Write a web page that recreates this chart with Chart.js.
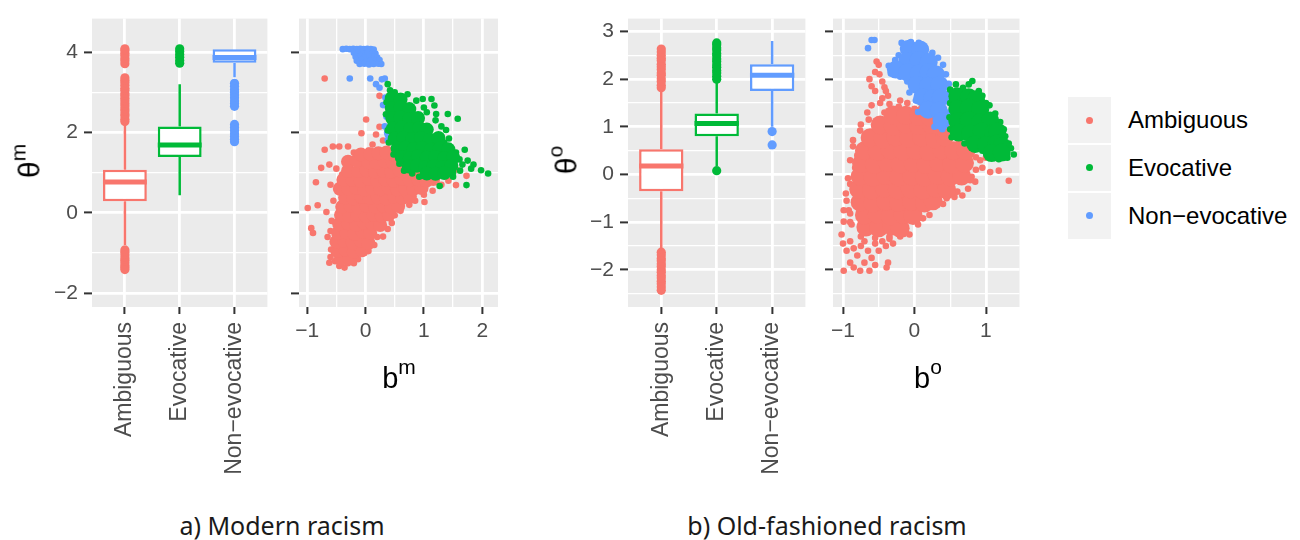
<!DOCTYPE html>
<html>
<head>
<meta charset="utf-8">
<script src="https://cdn.jsdelivr.net/npm/chart.js@4.4.1/dist/chart.umd.min.js"></script>
<style>
  body { margin: 0; background: #fff; }
  #fig { position: relative; width: 1300px; height: 540px; overflow: hidden;
         font-family: "Liberation Sans", Arial, sans-serif; }
  #fig canvas { position: absolute; top: 0; }
  .ytitle { position: absolute; transform: translate(-50%, -50%) rotate(-90deg);
            font-size: 30px; line-height: 1; white-space: nowrap; color: #000; }
  .xtitle { position: absolute; transform: translateX(-50%); font-size: 29px;
            line-height: 1; white-space: nowrap; color: #000; }
  .sup { font-size: 21px; vertical-align: 14px; }
  .caption { position: absolute; top: 513px; transform: translateX(-50%);
             font-family: "Noto Sans", sans-serif; font-size: 25px; line-height: 1;
             white-space: nowrap; color: #1a1a1a; }
  #legend { position: absolute; left: 1068px; top: 97px; }
  .row { display: flex; align-items: center; height: 45.7px; margin-bottom: 2.3px; }
  .key { width: 43px; height: 100%; background: #F2F2F2; position: relative; }
  .key i { position: absolute; left: 18px; top: 19.5px; width: 7px; height: 7px; border-radius: 50%; }
  .lab { margin-left: 17px; font-size: 24px; color: #000; white-space: nowrap; }
</style>
</head>
<body>
<div id="fig">
  <canvas id="boxA" width="272" height="500" style="left:0px"></canvas>
  <canvas id="dotA" width="220" height="500" style="left:285px"></canvas>
  <canvas id="boxB" width="270" height="500" style="left:540px"></canvas>
  <canvas id="dotB" width="210" height="500" style="left:819px"></canvas>

  <div class="ytitle" style="left:26px; top:161px">θ<span class="sup">m</span></div>
  <div class="ytitle" style="left:563px; top:160px">θ<span class="sup">o</span></div>
  <div class="xtitle" style="left:399px; top:356px">b<span class="sup">m</span></div>
  <div class="xtitle" style="left:928px; top:356px">b<span class="sup">o</span></div>

  <div class="caption" style="left:282px">a) Modern racism</div>
  <div class="caption" style="left:827px">b) Old-fashioned racism</div>

  <div id="legend"></div>
</div>

<script>
// groups and ggplot hue colours
const groups = ['Ambiguous', 'Evocative', 'Non\u2212evocative'];
const groupColors = ['#F8766D', '#00BA38', '#619CFF'];

// ---- a) modern racism : boxplot of theta^m ----
const loA  = [-0.80, 0.44, 3.37];
const q1A  = [0.29, 1.39, 3.73];
const medA = [0.77, 1.69, 3.86];
const q3A  = [1.07, 2.15, 4.07];
const hiA  = [2.22, 3.20, 4.07];
const outA = [
  [2.27, 2.33, 2.41, 2.46, 2.53, 2.59, 2.66, 2.72, 2.79, 2.85, 2.92, 2.97, 3.05, 3.1, 3.17, 3.24, 3.3, 3.36,
   3.71, 3.78, 3.84, 3.91, 3.97, 4.04, 4.08,
   -0.92, -0.98, -1.05, -1.12, -1.18, -1.24, -1.31, -1.36, -1.41],
  [3.72, 3.79, 3.87, 3.94, 4.01, 4.08],
  [3.22, 3.15, 3.07, 3.0, 2.93, 2.86, 2.78, 2.72, 2.65, 2.2, 2.12, 2.05, 1.97, 1.9, 1.83, 1.77]
];
const yMinA = -2.34, yMaxA = 4.83;
const yTicksA = [-2, -1, 0, 1, 2, 3, 4];
const yMajorA = [-2, 0, 2, 4];

// ---- a) scatter b^m vs theta^m ----
const xMinA = -1.14, xMaxA = 2.27;
const xTicksA = [-1, -0.5, 0, 0.5, 1, 1.5, 2];
const xMajorA = [-1, 0, 1, 2];

const redCoreA = [
  [-0.42,-1.15],[-0.28,-1.12],
  [-0.48,-0.95],[-0.34,-0.92],[-0.2,-0.97],[-0.06,-0.93],
  [-0.5,-0.72],[-0.36,-0.7],[-0.22,-0.74],[-0.08,-0.7],[0.05,-0.75],
  [-0.47,-0.5],[-0.33,-0.48],[-0.19,-0.52],[-0.05,-0.47],[0.08,-0.5],
  [-0.45,-0.28],[-0.3,-0.26],[-0.16,-0.3],[-0.02,-0.25],[0.12,-0.28],[0.25,-0.3],
  [-0.42,-0.05],[-0.28,-0.08],[-0.14,-0.04],[0.0,-0.07],[0.14,-0.05],[0.28,-0.08],[0.4,-0.04],
  [-0.4,0.15],[-0.26,0.18],[-0.12,0.14],[0.02,0.17],[0.16,0.15],[0.3,0.18],[0.44,0.14],[0.56,0.17],
  [-0.35,0.38],[-0.21,0.36],[-0.07,0.4],[0.07,0.37],[0.21,0.39],[0.35,0.36],[0.49,0.4],[0.63,0.37],[0.76,0.4],
  [-0.44,0.6],[-0.3,0.6],[-0.16,0.62],[-0.02,0.58],[0.12,0.61],[0.26,0.59],[0.4,0.62],[0.54,0.58],[0.68,0.61],[0.82,0.59],[0.96,0.62],
  [-0.38,0.82],[-0.22,0.82],[-0.08,0.8],[0.06,0.84],[0.2,0.81],[0.34,0.83],[0.48,0.8],[0.62,0.84],[0.76,0.81],[0.9,0.83],[1.04,0.8],[1.16,0.84],
  [-0.3,1.04],[-0.12,1.04],[0.02,1.06],[0.16,1.02],[0.3,1.05],[0.44,1.03],[0.58,1.06],[0.72,1.02],[0.86,1.05],[1.0,1.03],[1.14,1.0],
  [-0.3,1.27],[-0.15,1.3],[0.05,1.26],[0.19,1.24],[0.33,1.28],[0.47,1.25],[0.61,1.27],
  [-0.08,1.45],[0.08,1.46],[0.22,1.48],[0.36,1.5],[0.5,1.44]
];
const redA = [
  [-0.70,3.34],[0.24,2.91],[0.01,2.32],[-0.07,1.98],[0.24,2.14],[0.18,1.95],[0.3,1.8],[0.12,1.7],
  [-0.70,1.57],[-0.56,1.65],[-0.45,1.65],[-0.3,1.65],[-0.2,1.5],[-0.1,1.4],[0.05,1.55],[-0.05,1.3],
  [-0.76,1.12],[-0.62,1.2],[-0.5,1.1],[-0.4,0.95],[-0.32,1.15],[-0.85,0.76],[-0.6,0.7],[-0.48,0.6],
  [-0.99,0.12],[-0.82,0.19],[-0.55,0.3],[-0.67,0.02],[-0.58,-0.2],[-0.93,-0.38],[-0.90,-0.50],[-0.6,-0.45],[-0.65,-0.6],
  [-0.59,-0.91],[-0.6,-1.1],[-0.62,-1.24],[-0.52,-1.2],[-0.45,-1.32],[-0.36,-1.36],[-0.3,-1.25],[-0.2,-1.25],[-0.13,-1.15],
  [0.05,-0.95],[0.15,-0.8],[0.30,-0.59],[0.2,-0.6],[0.38,-0.4],[0.45,-0.25],[0.50,-0.06],[0.6,0.05],[0.75,0.2],[0.85,0.3],
  [1.01,0.27],[1.0,0.45],[1.15,0.55],[1.3,0.7],[1.55,0.69],[1.42,0.8],[1.73,0.92],[1.55,1.08],[1.3,1.0],[1.21,1.08],[1.4,0.95],
  [1.3,1.2],[0.9,1.3],[0.7,1.45],[0.5,1.6],[0.4,1.75],[0.45,2.0],[1.05,1.9],[1.2,1.55],[0.95,2.3]
];
const greenCoreA = [
  [0.45,2.85],[0.6,2.82],
  [0.45,2.6],[0.6,2.62],[0.75,2.58],
  [0.46,2.35],[0.6,2.37],[0.75,2.33],[0.9,2.36],
  [0.47,2.1],[0.62,2.12],[0.77,2.08],[0.92,2.11],[1.05,2.07],
  [0.5,1.85],[0.65,1.87],[0.8,1.83],[0.95,1.86],[1.1,1.82],[1.25,1.86],
  [0.55,1.6],[0.68,1.62],[0.82,1.58],[0.97,1.61],[1.12,1.57],[1.27,1.6],[1.42,1.58],
  [0.62,1.38],[0.76,1.36],[0.9,1.4],[1.05,1.37],[1.2,1.39],[1.35,1.36],[1.5,1.38],
  [0.74,1.15],[0.88,1.17],[1.02,1.13],[1.17,1.16],[1.32,1.14],[1.47,1.17],
  [1.05,0.98],[1.2,0.97],[1.35,0.99]
];
const greenA = [
  [2.1,0.98],[1.98,1.06],[1.81,1.1],[1.70,1.57],[1.58,2.34],[1.41,2.46],[1.43,1.85],[1.38,2.06],
  [0.87,2.79],[0.98,2.83],[1.13,2.83],[1.18,2.67],[1.21,2.46],[0.38,3.2],[1.73,0.69],[1.27,0.67],
  [1.61,1.33],[1.66,1.2],[1.55,1.5],[1.75,1.3],[0.36,2.75],[0.35,2.45],[0.38,2.05],[0.4,1.75],
  [0.48,1.45],[0.58,1.22],[0.66,1.05],[0.8,0.98],[0.92,0.9],[1.5,0.9],[1.62,1.05],[1.05,2.5],
  [1.3,2.15],[1.0,2.62],[0.72,2.95],[0.5,3.0],[0.42,3.05],[1.2,2.3],[1.35,1.75],[1.85,1.2],[1.5,1.0]
];
const blueA = [
  [-0.39,4.07],[-0.33,4.08],[-0.27,4.07],[-0.21,4.08],[-0.15,4.07],[-0.09,4.08],[-0.03,4.07],[0.03,4.08],[0.09,4.07],[0.14,4.06],
  [-0.2,3.98],[-0.12,3.99],[-0.04,3.97],[0.04,3.99],[0.12,3.98],[0.17,3.96],
  [-0.17,3.88],[-0.09,3.9],[-0.01,3.87],[0.07,3.89],[0.15,3.88],[0.2,3.86],
  [-0.15,3.78],[-0.07,3.8],[0.01,3.77],[0.09,3.79],[0.17,3.78],[0.24,3.8],
  [-0.1,3.7],[-0.02,3.71],[0.06,3.69],[0.14,3.7],[0.22,3.71],[0.27,3.7],
  [-0.27,3.34],[0.08,3.34],[0.33,3.34],[0.28,3.32],[0.18,3.2],[0.24,3.11],[0.34,2.87],[0.30,2.68],
  [0.36,2.39],[0.33,2.15],[0.38,1.81],[0.38,1.95],[0.37,2.0]
];

// ---- b) old-fashioned racism : boxplot of theta^o ----
const loB  = [-1.55, 0.18, 1.0];
const q1B  = [-0.35, 0.8, 1.75];
const medB = [0.18, 1.07, 2.08];
const q3B  = [0.53, 1.28, 2.31];
const hiB  = [1.78, 1.96, 2.8];
const outB = [
  [1.82, 1.87, 1.95, 2.01, 2.08, 2.13, 2.2, 2.26, 2.31, 2.39, 2.44, 2.5, 2.57, 2.63,
   -1.63, -1.69, -1.76, -1.81, -1.88, -1.93, -2.0, -2.05, -2.12, -2.17, -2.24, -2.29, -2.36, -2.43],
  [2.0, 2.06, 2.13, 2.18, 2.25, 2.3, 2.37, 2.42, 2.49, 2.54, 2.61, 2.66, 2.72, 2.76, 0.08],
  [0.9, 0.62]
];
const yMinB = -2.78, yMaxB = 3.27;
const yTicksB = [-2.5, -2, -1.5, -1, -0.5, 0, 0.5, 1, 1.5, 2, 2.5, 3];
const yMajorB = [-2, -1, 0, 1, 2, 3];

// ---- b) scatter b^o vs theta^o ----
const xMinB = -1.14, xMaxB = 1.47;
const xTicksB = [-1, -0.5, 0, 0.5, 1];
const xMajorB = [-1, 0, 1];

const redCoreB = [
  [-0.68,-1.1],[-0.5,-1.12],[-0.32,-1.08],[-0.2,-1.13],
  [-0.7,-0.85],[-0.52,-0.83],[-0.34,-0.87],[-0.16,-0.84],[-0.02,-0.86],
  [-0.76,-0.58],[-0.58,-0.6],[-0.4,-0.56],[-0.22,-0.59],[-0.04,-0.57],[0.14,-0.6],[0.26,-0.55],
  [-0.78,-0.31],[-0.6,-0.33],[-0.42,-0.29],[-0.24,-0.32],[-0.06,-0.3],[0.12,-0.33],[0.3,-0.29],[0.45,-0.32],
  [-0.76,-0.04],[-0.58,-0.06],[-0.4,-0.02],[-0.22,-0.05],[-0.04,-0.03],[0.14,-0.06],[0.32,-0.02],[0.5,-0.05],[0.66,-0.03],
  [-0.74,0.23],[-0.56,0.21],[-0.38,0.25],[-0.2,0.22],[-0.02,0.24],[0.16,0.21],[0.34,0.25],[0.52,0.22],[0.7,0.24],
  [-0.7,0.5],[-0.52,0.48],[-0.34,0.52],[-0.16,0.49],[0.02,0.51],[0.2,0.48],[0.38,0.52],[0.55,0.5],[0.72,0.5],
  [-0.62,0.77],[-0.44,0.75],[-0.26,0.79],[-0.08,0.76],[0.1,0.78],[0.28,0.75],[0.42,0.79],
  [-0.48,1.04],[-0.3,1.02],[-0.12,1.06],[0.06,1.03],[0.24,1.05],[0.38,1.0],
  [-0.3,1.25],[-0.12,1.24],[0.06,1.22],[0.22,1.2]
];
const redB = [
  [-0.53,2.37],[-0.5,2.3],[-0.63,2.0],[-0.55,2.15],[-0.49,2.1],[-0.45,1.95],[-0.42,1.83],[-0.37,1.65],
  [-0.35,1.48],[-0.45,1.6],[-0.55,1.75],[-0.6,1.85],[-0.4,1.75],[-0.48,1.5],[-0.6,1.45],[-0.66,1.3],
  [-0.2,1.55],[-0.1,1.5],[0.1,1.4],[0.25,1.35],[-0.75,1.05],
  [-0.86,0.59],[-0.83,0.14],[-0.8,0.4],[-0.9,-0.2],[-0.95,-0.55],[-0.92,-0.75],[-0.99,-0.75],[-0.99,-0.99],
  [-1.02,-1.26],[-0.9,-1.0],
  [-1.0,-1.45],[-0.95,-1.6],[-0.9,-1.4],[-0.85,-1.55],[-0.8,-1.7],[-0.75,-1.5],[-0.7,-1.4],[-0.65,-1.6],
  [-0.6,-1.75],[-0.55,-1.45],[-0.5,-1.6],[-0.45,-1.4],[-0.4,-1.5],[-0.35,-1.35],[-0.3,-1.45],[-0.99,-2.02],
  [-0.76,-2.02],[-0.63,-2.02],[-0.39,-1.95],[-0.37,-1.85],[-0.9,-1.85],[-0.85,-1.95],[-0.7,-1.85],[-0.55,-1.9],
  [-0.2,-1.3],[-0.07,-1.26],
  [0.21,-0.85],[0.28,-0.61],[0.56,-0.47],[0.67,-0.44],[0.45,-0.5],[0.75,-0.3],[0.85,-0.15],[0.95,0.14],
  [1.06,0.05],[1.18,0.08],[1.32,-0.13],[0.92,0.3],[1.0,0.35],[0.8,-0.05],
  [-0.88,-1.05],[-0.9,-0.82],[-0.96,-0.4],[-0.93,-0.08],[-0.9,0.3],[-0.86,0.72],[-0.76,0.92],[-0.64,1.15],
  [-0.42,1.3],[-0.22,1.42],[0.0,1.38],[0.15,1.33],[0.35,1.22],[0.4,-0.62],[0.6,-0.36],[0.78,-0.12],
  [0.86,0.1],[0.86,0.36],[0.8,0.56],[0.62,0.7],[-0.75,-1.3],[-0.55,-1.33],[-0.35,-1.3],[-0.15,-1.25],
  [0.05,-1.05],[0.12,-0.92]
];
const blueCoreB = [
  [-0.08,2.64],[0.08,2.62],
  [-0.1,2.38],[0.06,2.4],[0.2,2.36],
  [-0.26,2.2],[-0.1,2.14],[0.06,2.12],[0.2,2.15],[0.3,2.1],
  [0.03,1.88],[0.19,1.86],[0.35,1.88],
  [0.11,1.62],[0.25,1.6],[0.37,1.62],
  [0.19,1.36],[0.34,1.34],
  [0.38,1.12]
];
const blueB = [
  [-0.60,2.82],[-0.65,2.65],[-0.56,2.82],[-0.07,1.72],[0.02,1.55],[0.05,1.31],[0.39,0.95],[0.19,1.48],
  [-0.18,2.76],[-0.05,2.78],[0.06,2.76],[0.15,2.65],[0.25,2.55],[0.33,2.45],[0.4,2.3],[0.44,2.1],
  [0.48,1.9],[0.49,1.7],[0.49,1.5],[0.48,1.3],[0.46,1.15],[0.3,1.18],[-0.36,2.28],[-0.33,2.12],
  [-0.2,2.05],[-0.1,1.95],[-0.02,1.82],[-0.22,2.5],[-0.27,2.4],[0.12,1.3],[0.28,1.0]
];
const greenCoreB = [
  [0.6,1.64],[0.76,1.62],[0.86,1.58],
  [0.6,1.38],[0.76,1.4],[0.92,1.36],
  [0.6,1.12],[0.76,1.14],[0.92,1.1],[1.06,1.13],
  [0.62,0.88],[0.78,0.86],[0.94,0.9],[1.1,0.87],[1.16,0.9],
  [0.85,0.64],[1.0,0.62],[1.15,0.65],[1.22,0.6],
  [1.08,0.45],[1.22,0.46]
];
const greenB = [
  [0.76,1.89],[0.58,1.89],[0.81,1.96],[0.68,1.82],[0.95,1.65],[0.9,1.75],[1.05,1.45],[1.13,1.28],
  [1.2,1.1],[1.27,0.8],[1.32,0.65],[1.39,0.42],[1.3,0.35],[1.18,0.32],[1.1,0.4],[0.95,0.5],
  [0.82,0.55],[0.7,0.65],[0.5,1.78],[0.5,1.5],[0.49,1.2],[0.5,0.95],[0.52,0.78],[1.0,1.5],
  [1.25,0.95],[1.35,0.55]
];

// ---------------------------------------------------------------
const FONT = '"Liberation Sans", Arial, sans-serif';
const TICK_COLOR = '#4D4D4D';
const AXIS_H = 193;   // space under the panels for tick labels
Chart.defaults.font.family = FONT;

const fmt = v => (v < 0 ? '\u2212' + Math.abs(v) : String(v));

function gridOpts(majors, tickLen) {
  return {
    color: '#FFFFFF',
    lineWidth: c => (majors.includes(c.tick && c.tick.value) ? 2.8 : 1.3),
    tickColor: c => (majors.includes(c.tick && c.tick.value) ? '#333333' : 'rgba(0,0,0,0)'),
    tickWidth: 2,
    tickLength: tickLen,
    drawTicks: true
  };
}

// grey panel background, ggplot style
const panelBg = {
  id: 'panelBg',
  beforeDraw(chart) {
    const { ctx, chartArea: a } = chart;
    ctx.save();
    ctx.fillStyle = '#EBEBEB';
    ctx.fillRect(a.left, a.top, a.right - a.left, a.bottom - a.top);
    ctx.restore();
  }
};

// whiskers under the boxes, medians over them
function boxParts(lo, q1, med, q3, hi) {
  return {
    id: 'boxParts',
    beforeDatasetsDraw(chart) {
      const { ctx, scales: { x, y } } = chart;
      ctx.save();
      ctx.lineWidth = 2.5;
      lo.forEach((v, i) => {
        const px = x.getPixelForValue(i);
        ctx.strokeStyle = groupColors[i];
        ctx.beginPath();
        ctx.moveTo(px, y.getPixelForValue(hi[i]));
        ctx.lineTo(px, y.getPixelForValue(q3[i]));
        ctx.moveTo(px, y.getPixelForValue(q1[i]));
        ctx.lineTo(px, y.getPixelForValue(v));
        ctx.stroke();
      });
      ctx.restore();
    },
    afterDatasetsDraw(chart) {
      const { ctx, scales: { y } } = chart;
      const bars = chart.getDatasetMeta(0).data;
      ctx.save();
      ctx.lineWidth = 5;
      bars.forEach((bar, i) => {
        const py = y.getPixelForValue(med[i]);
        ctx.strokeStyle = groupColors[i];
        ctx.beginPath();
        ctx.moveTo(bar.x - bar.width / 2, py);
        ctx.lineTo(bar.x + bar.width / 2, py);
        ctx.stroke();
      });
      ctx.restore();
    }
  };
}

function yAxis(min, max, ticks, majors, width, showLabels) {
  return {
    type: 'linear', min, max,
    afterBuildTicks: s => { s.ticks = ticks.map(v => ({ value: v })); },
    afterFit: s => { s.width = width; },
    grid: gridOpts(majors, 8),
    border: { display: false },
    ticks: {
      autoSkip: false, padding: 6, color: TICK_COLOR, font: { size: 21 },
      callback: v => (showLabels && majors.includes(v) ? fmt(v) : '')
    }
  };
}

function makeBox(id, lo, q1, med, q3, hi, outs, yMin, yMax, yTicks, yMajor, yWidth, padRight) {
  const datasets = [{
    type: 'bar',
    data: groups.map((g, i) => ({ x: i, y: [q1[i], q3[i]] })),
    backgroundColor: '#FFFFFF',
    borderColor: groupColors,
    borderWidth: 2.5,
    borderSkipped: false,
    categoryPercentage: 1,
    barPercentage: 0.8,
    order: 0
  }];
  outs.forEach((vals, i) => datasets.push({
    type: 'scatter',
    data: vals.map(v => ({ x: i, y: v })),
    pointRadius: 4.6,
    pointBackgroundColor: groupColors[i],
    pointBorderWidth: 0,
    order: 1
  }));
  return new Chart(document.getElementById(id), {
    type: 'bar',
    data: { datasets },
    options: {
      responsive: false, animation: false, devicePixelRatio: 1, events: [],
      layout: { padding: { top: 13, right: padRight, left: 0, bottom: 0 } },
      plugins: { legend: { display: false }, tooltip: { enabled: false } },
      scales: {
        x: {
          type: 'linear', min: -0.6, max: 2.6, offset: false,
          afterBuildTicks: s => { s.ticks = [0, 1, 2].map(v => ({ value: v })); },
          afterFit: s => { s.height = AXIS_H; },
          grid: Object.assign(gridOpts([0, 1, 2], 7), { offset: false }),
          border: { display: false },
          ticks: {
            autoSkip: false, minRotation: 90, maxRotation: 90, padding: 8,
            color: TICK_COLOR, font: { size: 23 },
            callback: v => groups[v]
          }
        },
        y: yAxis(yMin, yMax, yTicks, yMajor, yWidth, true)
      }
    },
    plugins: [panelBg, boxParts(lo, q1, med, q3, hi)]
  });
}

function layer(points, color, r, order) {
  return {
    data: points.map(([x, y]) => ({ x, y })),
    pointRadius: r,
    pointBackgroundColor: color,
    pointBorderWidth: 0,
    clip: 0,
    order
  };
}

function makeScatter(id, layers, xMin, xMax, xTicks, xMajor, yMin, yMax, yTicks, yMajor, padRight) {
  return new Chart(document.getElementById(id), {
    type: 'scatter',
    data: { datasets: layers },
    options: {
      responsive: false, animation: false, devicePixelRatio: 1, events: [],
      layout: { padding: { top: 13, right: padRight, left: 0, bottom: 0 } },
      plugins: { legend: { display: false }, tooltip: { enabled: false } },
      scales: {
        x: {
          type: 'linear', min: xMin, max: xMax,
          afterBuildTicks: s => { s.ticks = xTicks.map(v => ({ value: v })); },
          afterFit: s => { s.height = AXIS_H; },
          grid: gridOpts(xMajor, 7),
          border: { display: false },
          ticks: {
            autoSkip: false, maxRotation: 0, padding: 5, color: TICK_COLOR, font: { size: 21 },
            callback: v => (xMajor.includes(v) ? fmt(v) : '')
          }
        },
        y: yAxis(yMin, yMax, yTicks, yMajor, 14, false)
      }
    },
    plugins: [panelBg]
  });
}

const [RED, GREEN, BLUE] = groupColors;

makeBox('boxA', loA, q1A, medA, q3A, hiA, outA, yMinA, yMaxA, yTicksA, yMajorA, 92, 3);
makeScatter('dotA', [
  layer(greenCoreA, GREEN, 7, 1), layer(greenA, GREEN, 3.3, 1),
  layer(blueA, BLUE, 3.3, 2),
  layer(redCoreA, RED, 7, 3), layer(redA, RED, 3.3, 3)
], xMinA, xMaxA, xTicksA, xMajorA, yMinA, yMaxA, yTicksA, yMajorA, 7);

makeBox('boxB', loB, q1B, medB, q3B, hiB, outB, yMinB, yMaxB, yTicksB, yMajorB, 88, 4);
makeScatter('dotB', [
  layer(greenCoreB, GREEN, 9, 1), layer(greenB, GREEN, 3.3, 1),
  layer(blueCoreB, BLUE, 9, 2), layer(blueB, BLUE, 3.3, 2),
  layer(redCoreB, RED, 9.5, 3), layer(redB, RED, 3.3, 3)
], xMinB, xMaxB, xTicksB, xMajorB, yMinB, yMaxB, yTicksB, yMajorB, 8);

// legend
const legend = document.getElementById('legend');
groups.forEach((g, i) => {
  const row = document.createElement('div');
  row.className = 'row';
  row.innerHTML = '<div class="key"><i style="background:' + groupColors[i] + '"></i></div>' +
                  '<span class="lab">' + g + '</span>';
  legend.appendChild(row);
});
</script>
</body>
</html>
